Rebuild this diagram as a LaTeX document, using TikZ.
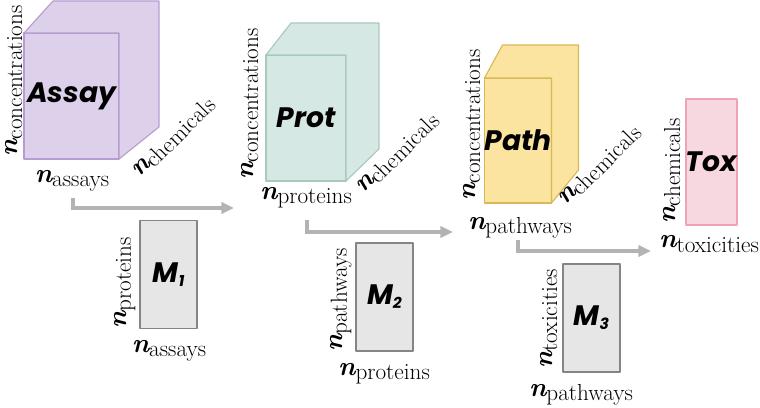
\documentclass[tikz,border=0pt]{standalone}
\usepackage{fontspec}
\usepackage{tikz}
\usetikzlibrary{arrows.meta}

\newfontfamily\boxfont{Poppins}

\definecolor{assayfill}{HTML}{DDD0EA}
\definecolor{assayline}{HTML}{B59DD1}
\definecolor{protfill}{HTML}{D5E8E3}
\definecolor{protline}{HTML}{A8C8C0}
\definecolor{pathfill}{HTML}{FBE3A0}
\definecolor{pathline}{HTML}{D9B85A}
\definecolor{toxfill}{HTML}{F8D8E0}
\definecolor{toxline}{HTML}{EFA3B5}
\definecolor{mapfill}{HTML}{E6E6E6}
\definecolor{mapline}{HTML}{858585}
\definecolor{flowgray}{HTML}{B3B3B3}

% n with a roman subscript, as on the axes
\newcommand{\dimn}[1]{{\fontsize{19}{19}\selectfont\bfseries\itshape n}\raisebox{-3pt}{\fontsize{16.5}{16.5}\selectfont #1}}
\newcommand{\mapname}[1]{M\raisebox{-3pt}{\fontsize{11}{11}\selectfont #1}}

\begin{document}
\begin{tikzpicture}[
  x=0.025cm,
  y=-0.025cm,
  block/.style={
    rectangle,
    line width=0.8pt,
    line join=round,
    inner sep=0pt,
    outer sep=0pt,
    font=\fontsize{20}{20}\selectfont\boxfont\bfseries\itshape
  },
  assaybox/.style={block, draw=assayline, fill=assayfill},
  protbox/.style={block, draw=protline, fill=protfill},
  pathbox/.style={block, draw=pathline, fill=pathfill},
  toxbox/.style={block, draw=toxline, fill=toxfill},
  mapbox/.style={block, draw=mapline, fill=mapfill,
    minimum width=1.425cm, minimum height=2.7cm},
  side/.style={line width=0.8pt, line join=round},
  dim/.style={inner sep=0pt},
  flow/.style={draw=flowgray, line width=2.2pt,
    -{Triangle[length=9pt, width=8pt]}}
]

\useasboundingbox (0,0) rectangle (760,407);

% cubes: front face as a node, top and side faces from its corners
\node[assaybox, minimum width=2.375cm, minimum height=3.15cm] (assay) at (71.5,96) {Assay};
\draw[side, draw=assayline, fill=assayfill] (assay.north west) -- ++(29,-32) -- ++(106,0)
  -- ++(0,126) -- (assay.south east) -- (assay.north east) -- cycle;

\node[protbox, minimum width=2.0cm, minimum height=3.15cm] (prot) at (306,118) {Prot};
\draw[side, draw=protline, fill=protfill] (prot.north west) -- ++(25,-32) -- ++(88,0)
  -- ++(0,126) -- (prot.south east) -- (prot.north east) -- cycle;

\node[pathbox, minimum width=1.65cm, minimum height=3.125cm] (path) at (518,140.5) {Path};
\draw[side, draw=pathline, fill=pathfill] (path.north west) -- ++(18,-33) -- ++(76,0)
  -- ++(0,125) -- (path.south east) -- (path.north east) -- cycle;

\node[toxbox, minimum width=1.275cm, minimum height=3.15cm] (tox) at (711.5,162) {Tox};

% mapping matrices
\node[mapbox] (m1) at (168.5,274.5) {\mapname{1}};
\node[mapbox] (m2) at (384.5,297) {\mapname{2}};
\node[mapbox] (m3) at (591.5,318) {\mapname{3}};

% axis labels
\node[dim, rotate=90] (assayconc) at (14,81) {\dimn{concentrations}};
\node[dim] (assayrow) at (72,181) {\dimn{assays}};
\node[dim, rotate=45] (assaychem) at (174,138) {\dimn{chemicals}};

\node[dim, rotate=90] (protconc) at (250,104) {\dimn{concentrations}};
\node[dim] (protrow) at (306,198) {\dimn{proteins}};
\node[dim, rotate=45] (protchem) at (398,154) {\dimn{chemicals}};

\node[dim, rotate=90] (pathconc) at (472,125) {\dimn{concentrations}};
\node[dim] (pathrow) at (520,228) {\dimn{pathways}};
\node[dim, rotate=45] (pathchem) at (600,166) {\dimn{chemicals}};

\node[dim, rotate=90] (toxchem) at (672,171) {\dimn{chemicals}};
\node[dim] (toxrow) at (709,244) {\dimn{toxicities}};

\node[dim, rotate=90] (m1col) at (125,283) {\dimn{proteins}};
\node[dim] (m1row) at (169,351) {\dimn{assays}};
\node[dim, rotate=90] (m2col) at (341,300) {\dimn{pathways}};
\node[dim] (m2row) at (384,374) {\dimn{proteins}};
\node[dim, rotate=90] (m3col) at (549,319) {\dimn{toxicities}};
\node[dim] (m3row) at (581,395) {\dimn{pathways}};

% flow arrows
\coordinate (f1s) at (73,198);
\coordinate (f1e) at (234,208);
\coordinate (f2s) at (307,220);
\coordinate (f2e) at (453,232);
\coordinate (f3s) at (518,240);
\coordinate (f3e) at (651,251);

\draw[flow] (f1s) |- (f1e);
\draw[flow] (f2s) |- (f2e);
\draw[flow] (f3s) |- (f3e);

\end{tikzpicture}
\end{document}
